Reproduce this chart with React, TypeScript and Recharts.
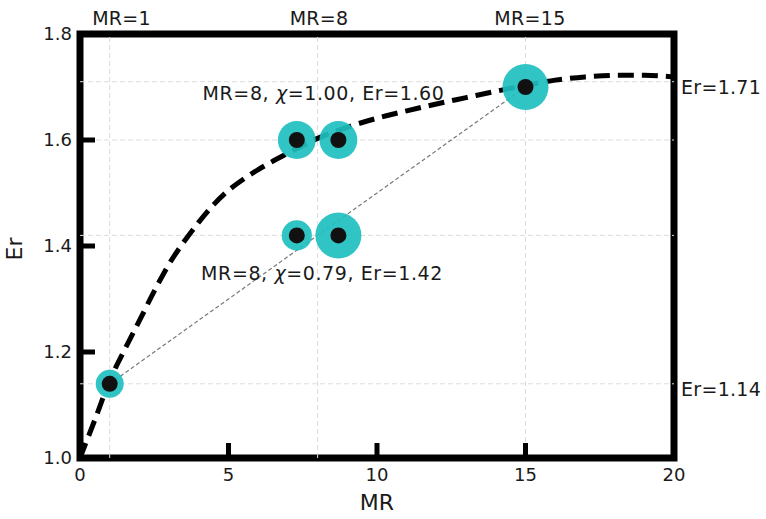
import React from "react";
import {
  ComposedChart, Line, Scatter, XAxis, YAxis, ZAxis,
  ReferenceLine, ReferenceDot, ReferenceArea,
} from "recharts";

const FONT = "DejaVu Sans, Verdana, sans-serif";
const INK = "#1a1a1a";
const TEAL = "#1fbfbf";

// Er curve
const curveMR = [0, 0.5, 1, 1.5, 2, 2.5, 3, 3.5, 4, 4.5, 5, 5.5, 6, 7, 8, 9, 10, 11, 12, 13, 14, 15, 16, 17, 18, 19, 20];
const curveEr = [1.0, 1.072, 1.146, 1.204, 1.259, 1.315, 1.366, 1.408, 1.445, 1.478, 1.505, 1.526, 1.544, 1.575, 1.603, 1.624, 1.641, 1.655, 1.668, 1.68, 1.692, 1.703, 1.713, 1.719, 1.722, 1.722, 1.719];

// straight link MR=1 -> MR=15
const linkMR = [1, 15];
const linkEr = [1.14, 1.7];

// measured points, weight = relative bubble area
const pointMR = [1, 7.3, 8.7, 7.3, 8.7, 15];
const pointEr = [1.14, 1.6, 1.6, 1.42, 1.42, 1.7];
const pointWeight = [0.37, 0.68, 0.68, 0.43, 1, 1];

const xTicks = [0, 5, 10, 15, 20];
const yTicks = [1.0, 1.2, 1.4, 1.6, 1.8];
const gridMR = [1, 8, 15];
const gridEr = [1.14, 1.42, 1.6, 1.71];
const topLabels = ["MR=1", "MR=8", "MR=15"];
const topLabelMR = [1.4, 8.05, 15.15];
const rightLabelEr = [1.71, 1.14];

const annoMR = [8, 8];
const annoChi = [1.0, 0.79];
const annoEr = [1.6, 1.42];
const annoAtMR = [8.2, 8.15];
const annoAtEr = [1.675, 1.336];

const curve = curveMR.map((x, i) => ({ x, y: curveEr[i] }));
const link = linkMR.map((x, i) => ({ x, y: linkEr[i] }));
const points = pointMR.map((x, i) => ({ x, y: pointEr[i], z: pointWeight[i] }));

function Bubble(props: any) {
  const { cx, cy, size, width } = props;
  const r = size != null ? Math.sqrt(size / Math.PI) : width / 2;
  return (
    <g>
      <circle cx={cx} cy={cy} r={r} fill={TEAL} fillOpacity={0.92} />
      <circle cx={cx} cy={cy} r={8} fill="#111" />
    </g>
  );
}

const textStyle = { fontFamily: FONT, fill: INK };

function topLabel(text: string) {
  return ({ viewBox }: any) => (
    <text x={viewBox.x + viewBox.width / 2} y={viewBox.y + viewBox.height / 2 - 9}
      textAnchor="middle" fontSize={19} letterSpacing={0.3} style={textStyle}>{text}</text>
  );
}

function rightLabel(text: string) {
  return ({ viewBox }: any) => (
    <text x={viewBox.x + viewBox.width / 2 + 7} y={viewBox.y + viewBox.height / 2 + 12}
      textAnchor="start" fontSize={19} letterSpacing={0.3} style={textStyle}>{text}</text>
  );
}

function annoLabel(mr: number, chi: number, er: number) {
  return ({ viewBox }: any) => (
    <text x={viewBox.x + viewBox.width / 2} y={viewBox.y + viewBox.height / 2}
      textAnchor="middle" fontSize={19} letterSpacing={0.6} style={textStyle}>
      {`MR=${mr}, `}
      <tspan fontStyle="italic">χ</tspan>
      {`=${chi.toFixed(2)}, Er=${er.toFixed(2)}`}
    </text>
  );
}

function ErLabel({ viewBox }: any) {
  const cx = viewBox.x + 22;
  const cy = viewBox.y + viewBox.height / 2 + 3;
  return (
    <text x={cx} y={cy} transform={`rotate(-90 ${cx} ${cy})`} textAnchor="middle"
      fontSize={22} style={textStyle}>Er</text>
  );
}

function MRLabel({ viewBox }: any) {
  return (
    <text x={viewBox.x + viewBox.width / 2} y={viewBox.y + viewBox.height - 9}
      textAnchor="middle" fontSize={22} style={textStyle}>MR</text>
  );
}

export default function App() {
  return (
    <div style={{ position: "absolute", left: 0, top: 0, background: "#fff" }}>
      <ComposedChart width={766} height={519} margin={{ top: 34, right: 92, bottom: 0, left: 0 }}
        style={{ fontFamily: FONT }}>
        <XAxis dataKey="x" type="number" domain={[0, 20]} ticks={xTicks} height={61}
          axisLine={false} tickLine={{ stroke: "#000", strokeWidth: 5 }} tickSize={-15} tickMargin={25}
          tick={{ fontSize: 18, fill: INK, fontFamily: FONT }} allowDataOverflow label={MRLabel} />
        <YAxis dataKey="y" type="number" domain={[1, 1.8]} ticks={yTicks} width={80}
          axisLine={false} tickLine={{ stroke: "#000", strokeWidth: 5 }} tickSize={-15} tickMargin={23}
          tickFormatter={(v: number) => v.toFixed(1)}
          tick={{ fontSize: 18, fill: INK, fontFamily: FONT }} allowDataOverflow label={ErLabel} />
        <ZAxis dataKey="z" type="number" domain={[0, 1]} range={[0, Math.PI * 23 * 23]} />

        {gridMR.map((x) => (
          <ReferenceLine key={`gx${x}`} x={x} stroke="#dcdcdc" strokeWidth={1} strokeDasharray="5 3" />
        ))}
        {gridEr.map((y) => (
          <ReferenceLine key={`gy${y}`} y={y} stroke="#dcdcdc" strokeWidth={1} strokeDasharray="5 3" />
        ))}

        <Line data={link} dataKey="y" type="linear" stroke="#777" strokeWidth={1.2}
          strokeDasharray="4 2.5" dot={false} activeDot={false} isAnimationActive={false} />
        <Line data={curve} dataKey="y" type="monotone" stroke="#000" strokeWidth={5}
          strokeDasharray="16 8" dot={false} activeDot={false} isAnimationActive={false} />
        <Scatter data={points} dataKey="y" shape={Bubble} isAnimationActive={false} />

        {topLabels.map((t, i) => (
          <ReferenceDot key={t} x={topLabelMR[i]} y={1.8} r={1} fill="none" stroke="none"
            label={topLabel(t)} />
        ))}
        {rightLabelEr.map((y) => (
          <ReferenceDot key={`r${y}`} x={20} y={y} r={1} fill="none" stroke="none"
            label={rightLabel(`Er=${y.toFixed(2)}`)} />
        ))}
        {annoMR.map((mr, i) => (
          <ReferenceDot key={`a${i}`} x={annoAtMR[i]} y={annoAtEr[i]} r={1} fill="none" stroke="none"
            label={annoLabel(mr, annoChi[i], annoEr[i])} />
        ))}

        <ReferenceArea x1={0} x2={20} y1={1} y2={1.8} fill="none" fillOpacity={0}
          stroke="#000" strokeWidth={7} />
      </ComposedChart>
    </div>
  );
}
